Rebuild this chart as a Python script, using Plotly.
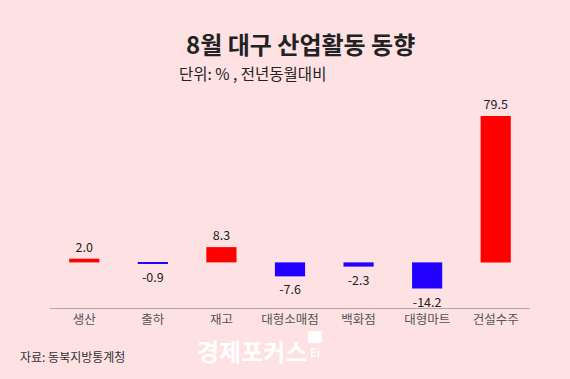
import plotly.graph_objects as go

categories = ["생산", "출하", "재고", "대형소매점", "백화점", "대형마트", "건설수주"]
values = [2.0, -0.9, 8.3, -7.6, -2.3, -14.2, 79.5]
labels = ["2.0", "-0.9", "8.3", "-7.6", "-2.3", "-14.2", "79.5"]

RED = "#ff0000"
BLUE = "#2200ff"
colors = [RED if v >= 0 else BLUE for v in values]
BG = "#fde1e3"
FONT = "Noto Sans CJK KR"

W, H = 570, 379
ML, MR, MT, MB = 50, 40, 106, 71
pw = W - ML - MR
ph = H - MT - MB


def px(x):
    return (x - ML) / pw


def py(y):
    return (H - y - MB) / ph


fig = go.Figure(go.Bar(
    x=categories, y=values, marker=dict(color=colors, line=dict(width=0)),
    text=labels, textposition="outside", cliponaxis=False,
    textfont=dict(size=12.5, color="#222222", family=FONT),
))

fig.update_layout(
    width=W, height=H,
    margin=dict(l=ML, r=MR, t=MT, b=MB),
    paper_bgcolor=BG, plot_bgcolor=BG,
    bargap=0.56,
    showlegend=False,
    font=dict(family=FONT),
    xaxis=dict(showgrid=False, showline=True, linecolor="#aaaaaa", linewidth=1,
               ticks="", ticklabelstandoff=0,
               tickfont=dict(size=12.5, color="#555555", family=FONT)),
    yaxis=dict(range=[-24.8, 85], visible=False, zeroline=False, showgrid=False),
    annotations=[
        dict(text="<b>8월 대구 산업활동 동향</b>", x=px(300), y=py(44),
             xref="paper", yref="paper", yanchor="middle",
             showarrow=False, font=dict(size=24, color="#222222", family=FONT)),
        dict(text="단위: % , 전년동월대비", x=px(177), y=py(73),
             xref="paper", yref="paper", xanchor="left", yanchor="middle",
             showarrow=False, font=dict(size=15.5, color="#222222", family=FONT)),
        dict(text="자료: 동북지방통계청", x=px(18), y=py(356),
             xref="paper", yref="paper", xanchor="left", yanchor="middle",
             showarrow=False, font=dict(size=12, color="#333333", family=FONT)),
        dict(text="<b>경제포커스</b>", x=px(252), y=py(350),
             xref="paper", yref="paper", yanchor="middle",
             showarrow=False, font=dict(size=24, color="#ffffff", family=FONT)),
        dict(text="<b>Ei</b>", x=px(315), y=py(352),
             xref="paper", yref="paper", yanchor="middle",
             showarrow=False, font=dict(size=11, color="#ffffff", family=FONT)),
    ],
    shapes=[
        dict(type="rect", xref="paper", yref="paper",
             x0=px(308), x1=px(322), y0=py(343), y1=py(331),
             fillcolor="#ffffff", line=dict(width=0)),
    ],
)

fig.write_html("out.html", config={"displayModeBar": False},
               post_script="document.body.style.margin='0';")
